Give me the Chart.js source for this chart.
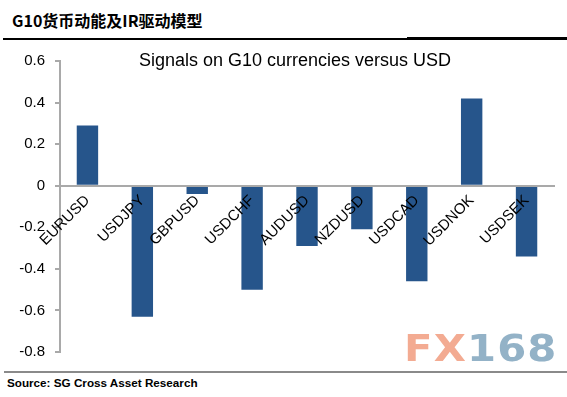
<!DOCTYPE html>
<html>
<head>
<meta charset="utf-8">
<script src="https://cdn.jsdelivr.net/npm/chart.js@4.4.3/dist/chart.umd.min.js"></script>
<style>
    body { margin: 0; background: #fff; width: 567px; height: 397px; position: relative; overflow: hidden; }
    .header { position: absolute; left: 12px; top: 8px; font-family: "Noto Sans CJK SC", sans-serif; font-weight: bold; font-size: 16px; color: #000; }
    .rule-thin { position: absolute; left: 3px; top: 38px; width: 404px; height: 2px; background: #000; }
    .rule-thick { position: absolute; left: 407px; top: 37px; width: 160px; height: 3px; background: #000; }
    .chart-box { position: absolute; left: 0; top: 42px; width: 567px; height: 329px; }
    .logo { position: absolute; left: 404px; top: 327px; font-family: "DejaVu Sans", sans-serif; font-weight: bold; font-size: 38px; letter-spacing: 1px; line-height: 42px; transform: scaleX(1.1); transform-origin: left top; }
    .logo .fx { color: #f3ab92; }
    .logo .num { color: #93b2c7; }
    .rule-grey { position: absolute; left: 4px; top: 371px; width: 563px; height: 2px; background: #8a8a8a; }
    .source { position: absolute; left: 7px; top: 376px; font-family: "Liberation Sans", Arial, sans-serif; font-weight: bold; font-size: 11.7px; color: #000; }
</style>
</head>
<body>
<div class="header">G10货币动能及IR驱动模型</div>
<div class="rule-thin"></div>
<div class="rule-thick"></div>
<div class="chart-box"><canvas id="signalsChart"></canvas></div>
<div class="logo"><span class="fx">FX</span><span class="num">168</span></div>
<div class="rule-grey"></div>
<div class="source">Source: SG Cross Asset Research</div>

<script>
const pairs = ['EURUSD', 'USDJPY', 'GBPUSD', 'USDCHF', 'AUDUSD', 'NZDUSD', 'USDCAD', 'USDNOK', 'USDSEK'];
const signals = [0.29, -0.63, -0.04, -0.50, -0.29, -0.21, -0.46, 0.42, -0.34];
const yTicks = [-0.8, -0.6, -0.4, -0.2, 0, 0.2, 0.4, 0.6];
const chartTitle = 'Signals on G10 currencies versus USD';

const axisGrey = '#a9a9a9';
const barBlue = '#26558b';

// title sits inside the plot area, so draw it by hand instead of the title plugin
const insideTitle = {
    id: 'insideTitle',
    afterDraw(chart) {
        const ctx = chart.ctx;
        ctx.save();
        ctx.font = '18px "Liberation Sans", Arial, sans-serif';
        ctx.fillStyle = '#000';
        ctx.textAlign = 'center';
        ctx.textBaseline = 'middle';
        ctx.fillText(chartTitle, 295, 19);
        ctx.restore();
    },
};

const ctx = document.getElementById('signalsChart').getContext('2d');
new Chart(ctx, {
    type: 'bar',
    data: {
        labels: pairs,
        datasets: [
            {
                data: signals,
                backgroundColor: barBlue,
                borderWidth: 0,
                barPercentage: 0.39,
                categoryPercentage: 1,
            },
        ],
    },
    options: {
        responsive: true,
        maintainAspectRatio: false,
        animation: false,
        layout: {
            padding: { top: 17, bottom: 12, right: 13, left: 0 },
        },
        plugins: {
            legend: { display: false },
            title: { display: false },
            tooltip: { enabled: false },
        },
        scales: {
            x: {
                position: { y: 0 },
                grid: { display: false, drawTicks: false },
                border: { display: true, color: axisGrey, width: 2, z: 1 },
                ticks: {
                    z: 1,
                    minRotation: 45,
                    maxRotation: 45,
                    autoSkip: false,
                    padding: 6,
                    color: '#000',
                    font: { family: '"Liberation Sans", Arial, sans-serif', size: 15 },
                },
            },
            y: {
                min: -0.8,
                max: 0.6,
                afterBuildTicks: (scale) => {
                    scale.ticks = yTicks.map((v) => ({ value: v }));
                },
                afterFit: (scale) => {
                    scale.width = 60;
                },
                grid: { drawOnChartArea: false, tickLength: 5, color: axisGrey, lineWidth: 2 },
                border: { display: true, color: axisGrey, width: 2 },
                ticks: {
                    padding: 10,
                    color: '#000',
                    font: { family: '"Liberation Sans", Arial, sans-serif', size: 15 },
                    callback: (v) => String(Math.round(v * 10) / 10),
                },
            },
        },
    },
    plugins: [insideTitle],
});
</script>
</body>
</html>
